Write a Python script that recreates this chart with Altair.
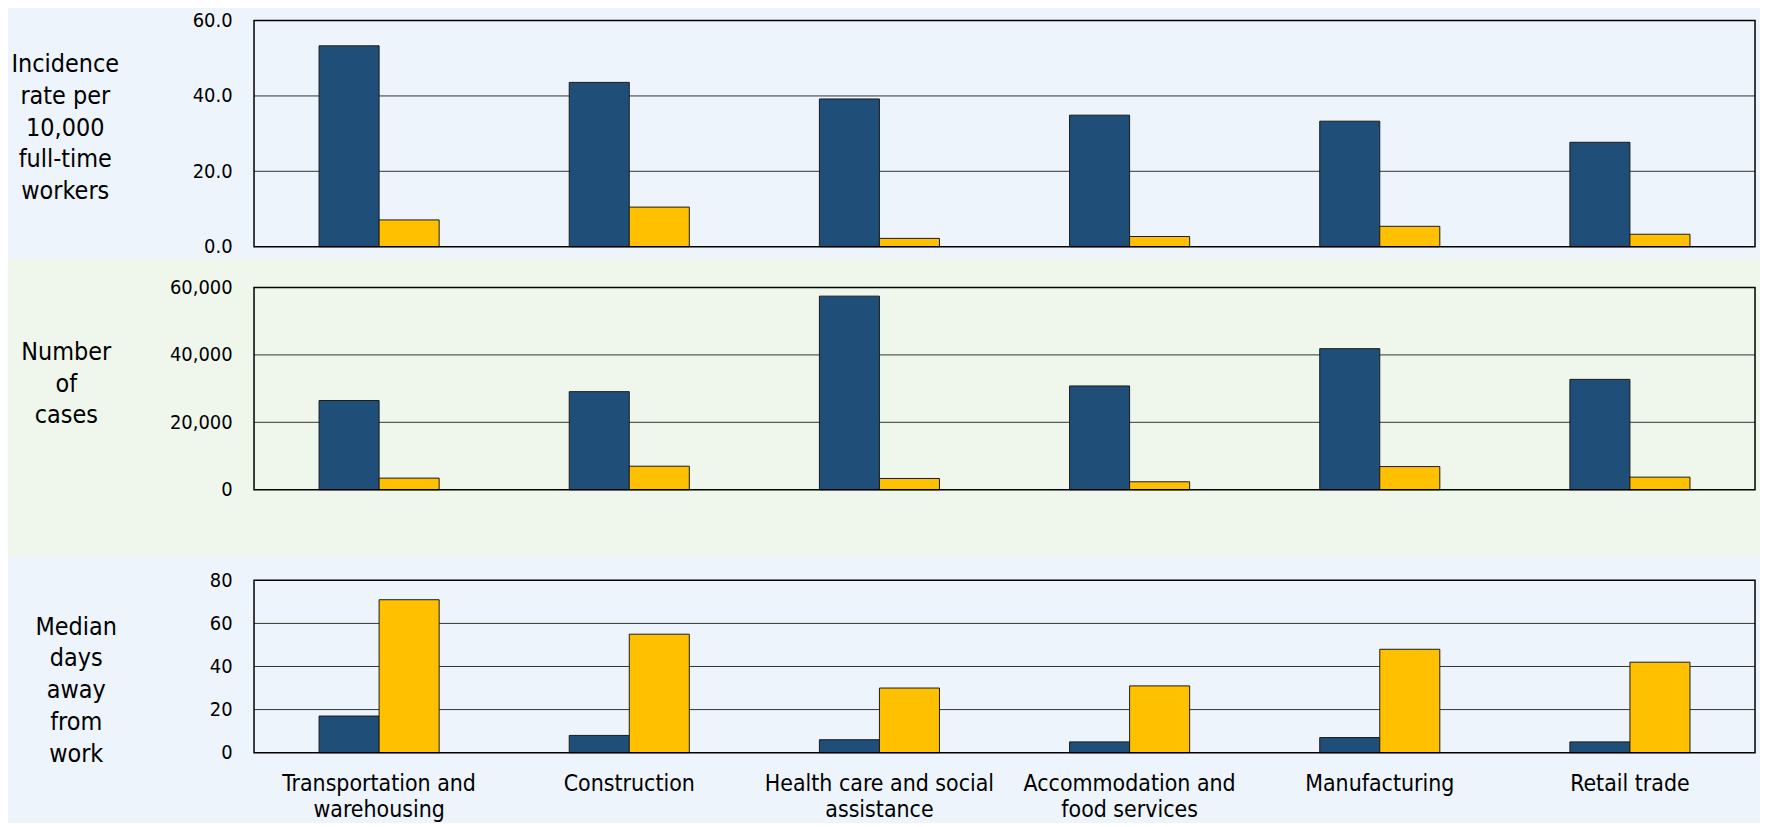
import altair as alt
import pandas as pd

categories = ["Transportation and warehousing", "Construction",
              "Health care and social assistance", "Accommodation and food services",
              "Manufacturing", "Retail trade"]
label_lines = [["Transportation and", "warehousing"], ["Construction"],
               ["Health care and social", "assistance"], ["Accommodation and", "food services"],
               ["Manufacturing"], ["Retail trade"]]
series = ["Group 1", "Group 2"]
series_colors = ["#1F4E79", "#FFC000"]

incidence_g1 = [53.3, 43.6, 39.2, 34.9, 33.3, 27.7]
incidence_g2 = [7.1, 10.5, 2.2, 2.7, 5.4, 3.3]
cases_g1 = [26470, 29100, 57440, 30790, 41860, 32740]
cases_g2 = [3440, 6970, 3330, 2350, 6860, 3730]
days_g1 = [17, 8, 6, 5, 7, 5]
days_g2 = [71, 55, 30, 31, 48, 42]

incidence_ticks = [0, 20, 40, 60]
cases_ticks = [0, 20000, 40000, 60000]
days_ticks = [0, 20, 40, 60, 80]

FONT = "DejaVu Sans Condensed, DejaVu Sans"
BLUE_BG = "#EDF4FB"
GREEN_BG = "#EFF7EC"
W = 1507

label_expr = " : ".join(
    f"datum.value == '{c}' ? [{', '.join(repr(s) for s in lines)}]"
    for c, lines in zip(categories, label_lines)
) + " : datum.label"


def panel(v1, v2, ticks, fmt, title_lines, title_x, title_y, height, bg_color, bg_y, bg_y2, show_x):
    df = pd.DataFrame({
        "category": categories * 2,
        "series": [series[0]] * len(categories) + [series[1]] * len(categories),
        "value": list(v1) + list(v2),
    })
    yaxis = alt.Axis(values=ticks, format=fmt, grid=False, ticks=False, domain=False,
                     labelPadding=22, labelFontSize=20, labelColor="#000",
                     title=title_lines, titleAngle=0, titleAlign="center",
                     titleBaseline="middle", titleX=title_x, titleY=title_y,
                     titleFontSize=25, titleFontWeight="normal", titleLineHeight=32,
                     titleColor="#000", zindex=1)
    yscale = alt.Scale(domain=[ticks[0], ticks[-1]], nice=False, zero=True)
    if show_x:
        xaxis = alt.Axis(title=None, ticks=False, domain=False, labelAngle=0,
                         labelFontSize=23, labelLineHeight=26, labelPadding=20,
                         labelBaseline="top", labelColor="#000", labelExpr=label_expr,
                         labelLimit=400, zindex=1)
    else:
        xaxis = None

    bg = alt.Chart(pd.DataFrame({"k": [0]})).mark_rect(color=bg_color).encode(
        x=alt.value(-247), x2=alt.value(W + 5), y=alt.value(bg_y), y2=alt.value(bg_y2))
    grid = alt.Chart(pd.DataFrame({"value": ticks[1:-1]})).mark_rule(
        color="#333333", strokeWidth=1).encode(
        y=alt.Y("value:Q", scale=yscale, axis=yaxis))
    bars = alt.Chart(df).mark_bar(stroke="#1a1a1a", strokeWidth=1).encode(
        x=alt.X("category:N", sort=categories,
                scale=alt.Scale(paddingInner=0.52, paddingOuter=0.26), axis=xaxis),
        xOffset=alt.XOffset("series:N", sort=series),
        y=alt.Y("value:Q", scale=yscale, axis=yaxis),
        color=alt.Color("series:N", scale=alt.Scale(domain=series, range=series_colors),
                        legend=None),
    )
    frame = alt.Chart(pd.DataFrame({"k": [0]})).mark_rect(
        fillOpacity=0, stroke="#000", strokeWidth=1.5).encode(
        x=alt.value(0), x2=alt.value("width"), y=alt.value(0), y2=alt.value("height"))
    return alt.layer(bg, grid, bars, frame).properties(width=W, height=height)


p1 = panel(incidence_g1, incidence_g2, incidence_ticks, ".1f",
           ["Incidence", "rate per", "10,000", "full-time", "workers"],
           -190, 43, 227, BLUE_BG, -11, 239, False)
p2 = panel(cases_g1, cases_g2, cases_ticks, ",.0f",
           ["Number", "of", "cases"], -189, 64, 203, GREEN_BG, -29, 270, False)
p3 = panel(days_g1, days_g2, days_ticks, "d",
           ["Median", "days", "away", "from", "work"], -179, 46, 173, BLUE_BG, -24, 238, True)

chart = alt.vconcat(p1, p2, p3, spacing=0).properties(
    background=BLUE_BG, padding=0
).configure(font=FONT).configure_view(stroke=None)

chart.save("out.html", embed_options={"renderer": "svg", "actions": False})
